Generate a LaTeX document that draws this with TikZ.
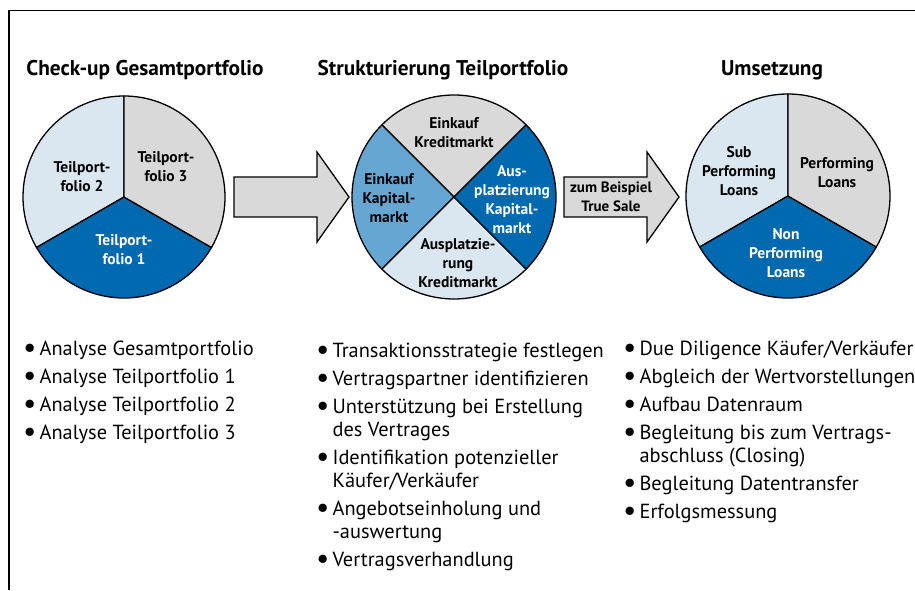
\documentclass[tikz,border=0pt]{standalone}
\usepackage{fontspec}
\setmainfont{PT Sans}
\definecolor{darkblue}{RGB}{0,105,176}
\definecolor{midblue}{RGB}{102,166,211}
\definecolor{paleblue}{RGB}{218,230,240}
\definecolor{palegray}{RGB}{217,217,217}
\newcommand{\listdot}{\raisebox{-2.5pt}{\scalebox{1.45}{\textbullet}}}
\begin{document}
\begin{tikzpicture}[x=1pt,y=1pt]
      \useasboundingbox (0,0) rectangle (915,590);
      % Frame
      \draw[line width=1.5pt] (9,0) -- (9,579.5) -- (915,579.5);

      % Headings
      \tikzset{Head/.style = {font=\bfseries\fontsize{21.3}{24}\selectfont}}
      \node[Head] (h1) at (145,520) {Check-up Gesamtportfolio};
      \node[Head] (h2) at (443,520) {Strukturierung Teilportfolio};
      \node[Head] (h3) at (772,520) {Umsetzung};

      % Pies
      \tikzset{Slice/.style = {draw, line width=1.3pt, line join=round},
               Label/.style = {font=\bfseries\fontsize{15.5}{19}\selectfont, align=center}}
      \coordinate (c1) at (124,393);
      \coordinate (c2) at (454,393);
      \coordinate (c3) at (788,394);
      \filldraw[Slice, fill=paleblue] (c1) -- ++(90:101pt) arc[start angle=90, end angle=210, radius=101pt] -- cycle;
      \filldraw[Slice, fill=darkblue] (c1) -- ++(210:101pt) arc[start angle=210, end angle=330, radius=101pt] -- cycle;
      \filldraw[Slice, fill=palegray] (c1) -- ++(330:101pt) arc[start angle=330, end angle=450, radius=101pt] -- cycle;
      \filldraw[Slice, fill=palegray] (c2) -- ++(45:102pt) arc[start angle=45, end angle=135, radius=102pt] -- cycle;
      \filldraw[Slice, fill=midblue] (c2) -- ++(135:102pt) arc[start angle=135, end angle=225, radius=102pt] -- cycle;
      \filldraw[Slice, fill=paleblue] (c2) -- ++(225:102pt) arc[start angle=225, end angle=315, radius=102pt] -- cycle;
      \filldraw[Slice, fill=darkblue] (c2) -- ++(315:102pt) arc[start angle=315, end angle=405, radius=102pt] -- cycle;
      \filldraw[Slice, fill=paleblue] (c3) -- ++(90:102pt) arc[start angle=90, end angle=210, radius=102pt] -- cycle;
      \filldraw[Slice, fill=darkblue] (c3) -- ++(210:102pt) arc[start angle=210, end angle=330, radius=102pt] -- cycle;
      \filldraw[Slice, fill=palegray] (c3) -- ++(330:102pt) arc[start angle=330, end angle=450, radius=102pt] -- cycle;

      \node[Label] (tp2) at (82,413) {Teilport-\\folio 2};
      \node[Label] (tp3) at (166,423) {Teilport-\\folio 3};
      \node[Label, white] (tp1) at (124,340) {Teilport-\\folio 1};
      \node[Label] (ekr) at (454,457) {Einkauf\\Kreditmarkt};
      \node[Label, white] (aka) at (512,390) {Aus-\\platzierung\\Kapital-\\markt};
      \node[Label] (eka) at (389,392) {Einkauf\\Kapital-\\markt};
      \node[Label] (akr) at (458,327) {Ausplatzie-\\rung\\Kreditmarkt};
      \node[Label] (spl) at (739,419) {Sub\\Performing\\Loans};
      \node[Label] (pl) at (837,417) {Performing\\Loans};
      \node[Label, white] (npl) at (786,337) {Non\\Performing\\Loans};

      % Arrows
      \tikzset{BlockArrow/.style = {draw, fill=palegray, line width=1.3pt, line join=miter}}
      \filldraw[BlockArrow] (234,373) -- (317,373) -- (317,348) -- (349,393)
        -- (317,438) -- (317,413) -- (234,413) -- cycle;
      \filldraw[BlockArrow] (564,373) -- (647,373) -- (647,348) -- (679,393)
        -- (647,438) -- (647,413) -- (564,413) -- cycle;
      \node[Label, font=\bfseries\fontsize{15}{19}\selectfont] (ts) at (611,393) {zum Beispiel\\True Sale};

      % Lists
      \tikzset{List/.style = {anchor=base west, inner sep=0pt,
               font=\fontsize{20.4}{23}\selectfont}}
      \node[List] (l1) at (23,235) {\begin{tabular}[t]{@{}l@{\hspace{3pt}}l@{}}
        \listdot & Analyse Gesamtportfolio\\[5pt]
        \listdot & Analyse Teilportfolio 1\\[5pt]
        \listdot & Analyse Teilportfolio 2\\[5pt]
        \listdot & Analyse Teilportfolio 3
      \end{tabular}};
      \node[List] (l2) at (316,233) {\begin{tabular}[t]{@{}l@{\hspace{3pt}}l@{}}
        \listdot & Transaktionsstrategie festlegen\\[5pt]
        \listdot & Vertragspartner identifizieren\\[5pt]
        \listdot & Unterstützung bei Erstellung\\
                 & des Vertrages\\[5pt]
        \listdot & Identifikation potenzieller\\
                 & Käufer/Verkäufer\\[5pt]
        \listdot & Angebotseinholung und\\
                 & -auswertung\\[5pt]
        \listdot & Vertragsverhandlung
      \end{tabular}};
      \node[List] (l3) at (623,235) {\begin{tabular}[t]{@{}l@{\hspace{3pt}}l@{}}
        \listdot & Due Diligence Käufer/Verkäufer\\[5pt]
        \listdot & Abgleich der Wertvorstellungen\\[5pt]
        \listdot & Aufbau Datenraum\\[5pt]
        \listdot & Begleitung bis zum Vertrags-\\
                 & abschluss (Closing)\\[5pt]
        \listdot & Begleitung Datentransfer\\[5pt]
        \listdot & Erfolgsmessung
      \end{tabular}};
\end{tikzpicture}
\end{document}
